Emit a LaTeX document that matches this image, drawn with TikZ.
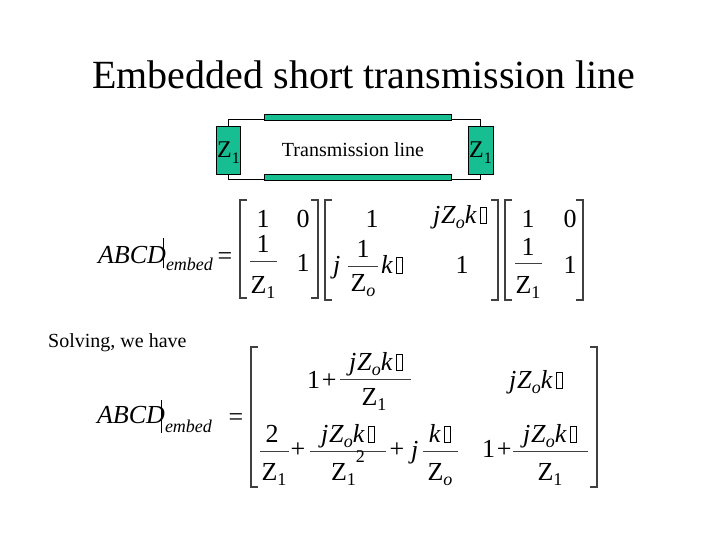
\documentclass[tikz,border=0pt]{standalone}
\usepackage{fontspec}
\setmainfont{Liberation Serif}
\definecolor{tl}{RGB}{22,190,145}
\newcommand\nb{\kern0.12em{\setlength\fboxsep{0pt}\setlength\fboxrule{0.045em}\fbox{\rule{0pt}{0.58em}\rule{0.18em}{0pt}}}}
\newcommand\sbs[2][18]{\raisebox{-0.22em}{\fontsize{#1}{#1}\selectfont #2}}
\newcommand\sps[2][18]{\raisebox{0.66em}{\fontsize{#1}{#1}\selectfont #2}}
\newcommand\jzk{\textit{j\kern0.04em Z}\sbs{\textit{o}}\textit{k}\nb}
\tikzset{
  tx/.style={anchor=base, inner sep=0pt, outer sep=0pt, font=\fontsize{26}{30}\selectfont},
  txw/.style={tx, anchor=base west},
  lhs/.style={txw, font=\fontsize{26}{30}\selectfont\itshape},
  emb/.style={txw, font=\fontsize{18}{20}\selectfont\itshape},
  fbar/.style={line width=0.9pt, draw=black!75},
  brk/.style={line width=1.4pt, draw=black!75},
  grn/.style={fill=tl, draw=black, line width=0.8pt},
  zlab/.style={anchor=base west, inner sep=0pt, font=\fontsize{24}{28}\selectfont},
}
\begin{document}
\begin{tikzpicture}[x=1pt,y=-1pt]
\useasboundingbox[fill=white] (0,0) rectangle (720,540);
% title
\node[anchor=base, inner sep=0pt, font=\fontsize{40}{48}\selectfont] (title) at (364,89) {Embedded short transmission line};
% transmission line sketch
\draw[line width=1pt, fill=white] (228,120) rectangle (480,180);
\draw[grn] (264,114) rectangle (451,120);
\draw[grn] (264,174) rectangle (451,180);
\draw[grn] (216,126) rectangle (240,174);
\draw[grn] (468,126) rectangle (493,174);
\node[zlab] (zl) at (217,158) {Z\sbs[16]{1}};
\node[zlab] (zr) at (469,158) {Z\sbs[16]{1}};
\node[anchor=base, inner sep=0pt, font=\fontsize{20}{24}\selectfont] (tline) at (353,157) {Transmission line};
% equation 1
\node[lhs] (e1abcd) at (98,263) {ABCD};
\draw[line width=1pt] (163,238) -- (163,268);
\node[emb] (e1emb) at (166,270) {embed};
\node[tx] (e1eq) at (225,264) {=};
\draw[brk] (247,200) -- (240,200) -- (240,298) -- (247,298);
\draw[brk] (311,200) -- (318,200) -- (318,298) -- (311,298);
\node[tx] (m1a) at (263,228) {1};
\node[tx] (m1b) at (303,228) {0};
\node[tx] (m1cn) at (263,252) {1};
\draw[fbar] (250,261) -- (277,261);
\node[tx] (m1cd) at (263,293) {Z\sbs{1}};
\node[tx] (m1d) at (303,271) {1};
\draw[brk] (332,200) -- (325,200) -- (325,300) -- (332,300);
\draw[brk] (491,200) -- (498,200) -- (498,300) -- (491,300);
\node[tx] (m2a) at (372,228) {1};
\node[tx] (m2b) at (460,223) {\jzk};
\node[txw] (m2cj) at (333,273) {\textit{j}};
\node[tx] (m2cn) at (363,257) {1};
\draw[fbar] (348,266) -- (378,266);
\node[tx] (m2cd) at (363,291) {Z\sbs{\textit{o}}};
\node[txw] (m2ck) at (381,273) {\textit{k}\nb};
\node[tx] (m2d) at (462,273) {1};
\draw[brk] (512,200) -- (505,200) -- (505,300) -- (512,300);
\draw[brk] (576,200) -- (583,200) -- (583,300) -- (576,300);
\node[tx] (m3a) at (528,228) {1};
\node[tx] (m3b) at (570,228) {0};
\node[tx] (m3cn) at (528,255) {1};
\draw[fbar] (515,263) -- (542,263);
\node[tx] (m3cd) at (528,293) {Z\sbs{1}};
\node[tx] (m3d) at (570,273) {1};
% solving
\node[anchor=base west, inner sep=0pt, font=\fontsize{20}{24}\selectfont] (solv) at (48,347) {Solving, we have};
% equation 2
\node[lhs] (e2abcd) at (97,423) {ABCD};
\draw[line width=1pt] (161,400) -- (161,433);
\node[emb] (e2emb) at (165,432) {embed};
\node[tx] (e2eq) at (236,425) {=};
\draw[brk] (258,347) -- (251,347) -- (251,487) -- (258,487);
\draw[brk] (590,347) -- (597,347) -- (597,487) -- (590,487);
\node[txw] (r1one) at (307,388) {1\kern2pt+};
\node[tx] (r1n) at (376,370) {\jzk};
\draw[fbar] (340,379) -- (411,379);
\node[tx] (r1d) at (374,405) {Z\sbs{1}};
\node[tx] (r1b) at (536,388) {\jzk};
\node[tx] (r2an) at (272,442) {2};
\draw[fbar] (260,451) -- (289,451);
\node[tx] (r2ad) at (274,480) {Z\sbs{1}};
\node[tx] (r2p1) at (298,457) {+};
\node[tx] (r2bn) at (348,442) {\jzk};
\draw[fbar] (310,451) -- (386,451);
\node[tx] (r2bd) at (348,480) {Z\sbs{1}\sps{2}};
\node[tx] (r2p2) at (397,457) {+};
\node[txw] (r2j) at (411,458) {\textit{j}};
\node[tx] (r2cn) at (440,442) {\textit{k}\nb};
\draw[fbar] (423,451) -- (458,451);
\node[tx] (r2cd) at (440,480) {Z\sbs{\textit{o}}};
\node[txw] (r2one) at (482,457) {1\kern2pt+};
\node[tx] (r2dn) at (550,442) {\jzk};
\draw[fbar] (513,451) -- (588,451);
\node[tx] (r2dd) at (550,480) {Z\sbs{1}};
\end{tikzpicture}
\end{document}
